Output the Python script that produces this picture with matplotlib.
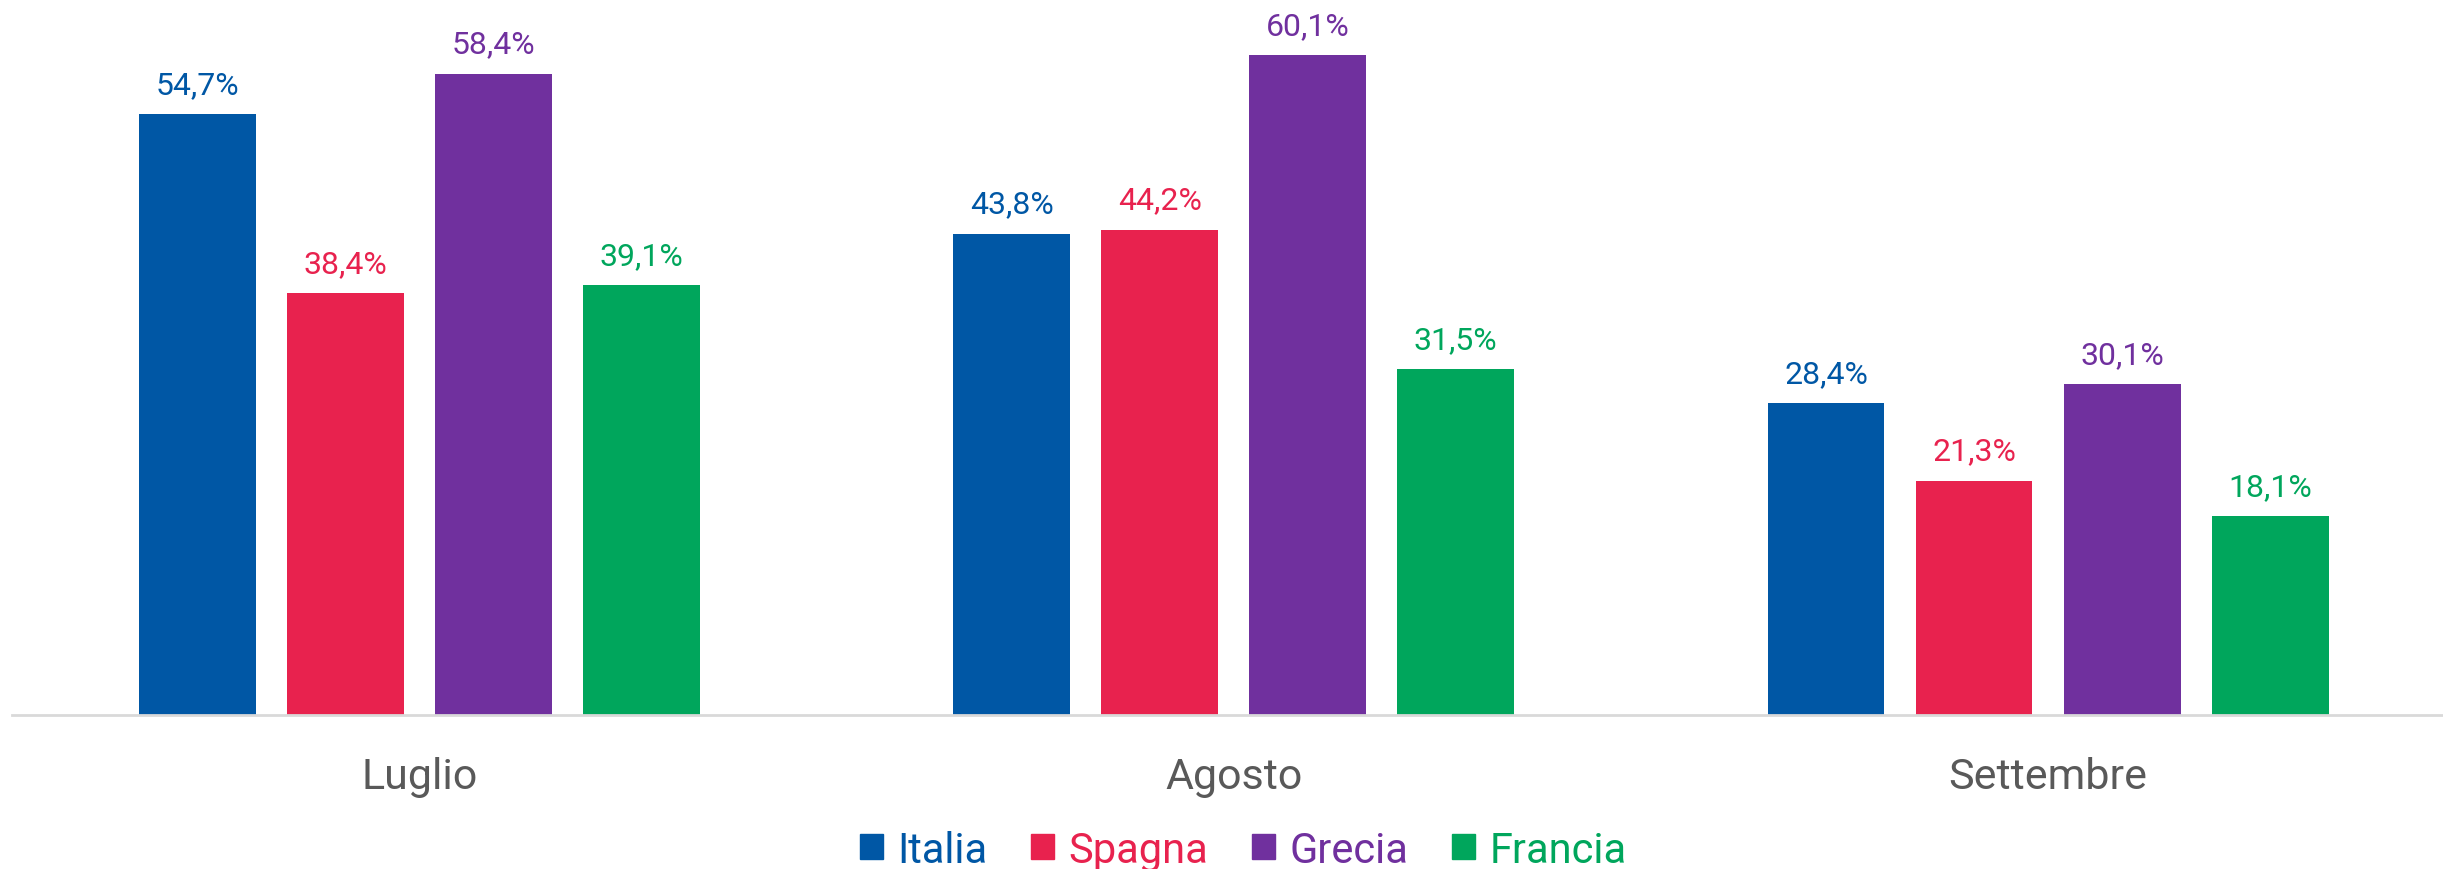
import matplotlib.pyplot as plt
import numpy as np
from matplotlib.patches import Patch

mesi = ['Luglio', 'Agosto', 'Settembre']
paesi = ['Italia', 'Spagna', 'Grecia', 'Francia']
valori = {
    'Italia': [54.7, 43.8, 28.4],
    'Spagna': [38.4, 44.2, 21.3],
    'Grecia': [58.4, 60.1, 30.1],
    'Francia': [39.1, 31.5, 18.1],
}
colori = {
    'Italia': '#0057A5',
    'Spagna': '#E8224E',
    'Grecia': '#70309E',
    'Francia': '#00A65C',
}

plt.rcParams['font.family'] = ['Roboto', 'DejaVu Sans']

fig = plt.figure(figsize=(24.43, 8.7), dpi=100)
ax = fig.add_axes([0.005, 0.1774, 0.995, 0.8226])

x = np.arange(len(mesi))
passo = 1 / 5.5
larghezza = 0.1435

for i, p in enumerate(paesi):
    pos = x + (i - 1.5) * passo
    bars = ax.bar(pos, valori[p], width=larghezza, color=colori[p])
    for b, v in zip(bars, valori[p]):
        ax.annotate(f'{v:.1f}%'.replace('.', ','),
                    (b.get_x() + b.get_width() / 2, v),
                    xytext=(0, 11), textcoords='offset points',
                    ha='center', va='bottom', fontsize=23, color=colori[p])

ax.set_xlim(-0.5, 2.485)
ax.set_ylim(0, 65.2)
ax.set_xticks(x)
ax.set_xticklabels(mesi, fontsize=31, color='#595959')
ax.tick_params(axis='x', length=0, pad=30)
ax.set_yticks([])
for s in ['top', 'right', 'left']:
    ax.spines[s].set_visible(False)
ax.spines['bottom'].set_color('#D9D9D9')
ax.spines['bottom'].set_linewidth(2)

handles = [Patch(color=colori[p], label=p) for p in paesi]
leg = fig.legend(handles=handles, loc='lower center', bbox_to_anchor=(0.509, -0.045),
                 ncol=4, frameon=False, fontsize=30, handlelength=0.55,
                 handleheight=0.55, handletextpad=0.35, columnspacing=1.05)
for t, p in zip(leg.get_texts(), paesi):
    t.set_color(colori[p])

fig.savefig('out.png', dpi=100)
